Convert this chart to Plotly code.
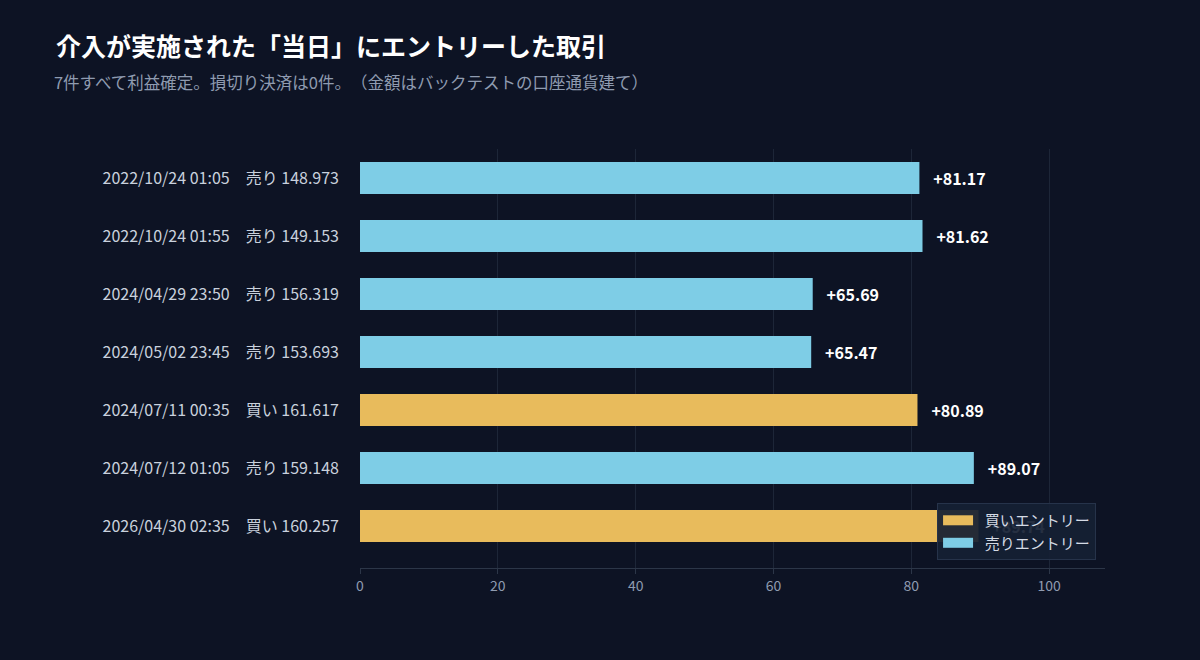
import plotly.graph_objects as go

FONT = "Noto Sans CJK JP, Noto Sans, sans-serif"

entry_times = [
    "2022/10/24 01:05",
    "2022/10/24 01:55",
    "2024/04/29 23:50",
    "2024/05/02 23:45",
    "2024/07/11 00:35",
    "2024/07/12 01:05",
    "2026/04/30 02:35",
]
sides = ["売り", "売り", "売り", "売り", "買い", "売り", "買い"]
entry_prices = ["148.973", "149.153", "156.319", "153.693", "161.617", "159.148", "160.257"]
profits = [81.17, 81.62, 65.69, 65.47, 80.89, 89.07, 89.74]

labels = [f"{t}\u3000{s} {p}" for t, s, p in zip(entry_times, sides, entry_prices)]

BUY_COLOR = "#e8bb5c"
SELL_COLOR = "#7ecde6"
BG = "#0d1324"

fig = go.Figure()
series = [("買い", "買いエントリー", BUY_COLOR), ("売り", "売りエントリー", SELL_COLOR)]
for side, name, color in series:
    ys = [lab for lab, s in zip(labels, sides) if s == side]
    xs = [v for v, s in zip(profits, sides) if s == side]
    fig.add_trace(
        go.Bar(
            x=xs,
            y=ys,
            orientation="h",
            name=name,
            showlegend=False,
            marker={"color": color, "line": {"width": 0}},
            width=0.55,
            text=[f"\u00a0\u00a0\u00a0+{v:.2f}" for v in xs],
            textposition="outside",
            cliponaxis=False,
            textfont={"family": FONT, "size": 16, "color": "#ffffff", "weight": "bold"},
        )
    )

# legend keys drawn as wide swatches
for side, name, color in series:
    fig.add_trace(
        go.Scatter(
            x=[None],
            y=[None],
            mode="lines",
            name="\u00a0\u00a0" + name,
            line={"color": color, "width": 10},
            hoverinfo="skip",
        )
    )

fig.add_annotation(
    text="7件すべて利益確定。損切り決済は0件。（金額はバックテストの口座通貨建て）",
    xref="paper",
    yref="paper",
    x=(56 - 360) / 745,
    y=(568 - 82) / 419,
    xanchor="left",
    yanchor="middle",
    showarrow=False,
    font={"family": FONT, "size": 16.5, "color": "#8f9bb0"},
)

fig.update_layout(
    width=1200,
    height=660,
    paper_bgcolor=BG,
    plot_bgcolor=BG,
    barmode="overlay",
    font={"family": FONT, "color": "#c9d1dd"},
    margin={"l": 360, "r": 95, "t": 149, "b": 92},
    title={
        "text": "介入が実施された「当日」にエントリーした取引",
        "x": 56 / 1200,
        "xref": "container",
        "xanchor": "left",
        "y": 1 - 47 / 660,
        "yref": "container",
        "yanchor": "middle",
        "font": {"family": FONT, "size": 25, "color": "#ffffff", "weight": "bold"},
    },
    legend={
        "x": 0.988,
        "xanchor": "right",
        "y": 0.019,
        "yanchor": "bottom",
        "bgcolor": "rgba(22,32,52,0.93)",
        "bordercolor": "#26334a",
        "borderwidth": 1,
        "font": {"family": FONT, "size": 15, "color": "#d5dbe5"},
        "traceorder": "normal",
    },
    showlegend=True,
)

fig.update_xaxes(
    range=[0, 108.1],
    tickvals=[0, 20, 40, 60, 80, 100],
    showgrid=True,
    gridcolor="#1d2638",
    gridwidth=1,
    zeroline=False,
    showline=True,
    linecolor="#2c3648",
    ticks="outside",
    ticklen=5,
    tickcolor="#2c3648",
    tickfont={"family": FONT, "size": 14, "color": "#8f9bb0"},
)
fig.update_yaxes(
    type="category",
    categoryorder="array",
    categoryarray=labels,
    range=[6.724, -0.5],
    showgrid=False,
    zeroline=False,
    showline=False,
    ticks="",
    ticklabelstandoff=20,
    tickfont={"family": FONT, "size": 16, "color": "#c9d1dd"},
)

fig.write_html(
    "out.html",
    config={"displayModeBar": False},
    post_script=(
        f"document.body.style.margin='0';document.body.style.background='{BG}';"
        "var s=document.createElement('style');"
        "s.textContent='text{text-spacing-trim:space-all;}';"
        "document.head.appendChild(s);"
    ),
)
